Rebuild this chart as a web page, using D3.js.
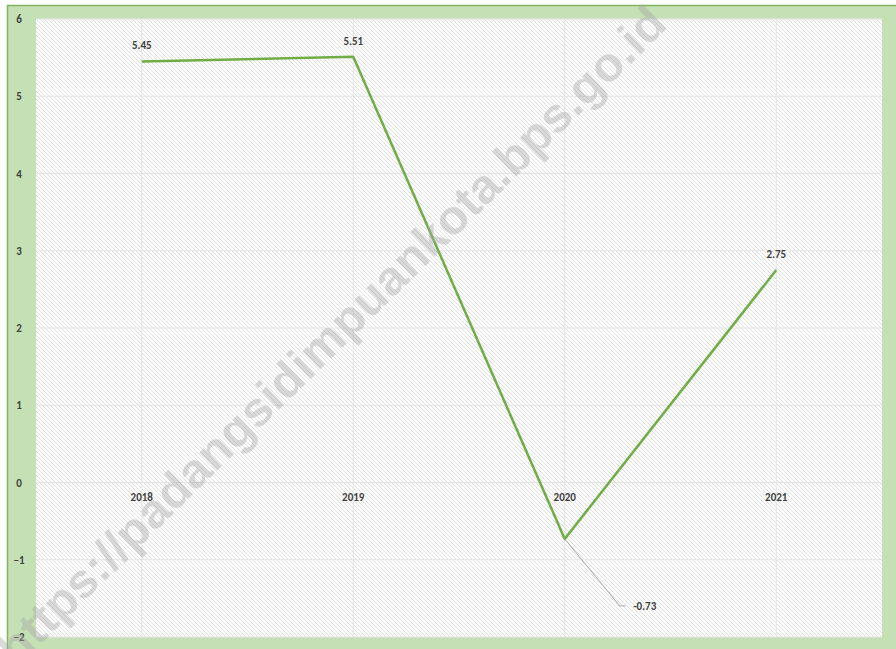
<!DOCTYPE html>
<html>
<head>
<meta charset="utf-8">
<script src="https://cdn.jsdelivr.net/npm/d3@7"></script>
<style>
  body { margin: 0; background: #fff; }
  text { font-family: Calibri, Carlito, "Open Sans", "DejaVu Sans", sans-serif; }
</style>
</head>
<body>
<svg id="chart"></svg>
<script>
var years = ["2018", "2019", "2020", "2021"]
var growth = [5.45, 5.51, -0.73, 2.75]
var yTicks = [-2, -1, 0, 1, 2, 3, 4, 5, 6]

var screen = {width: 896, height: 649}
var margins = {top: 19, bottom: 12, left: 36, right: 14}
var graph = {
  width: screen.width - margins.left - margins.right,
  height: screen.height - margins.top - margins.bottom
}

var svg = d3.select("#chart")
  .attr("width", screen.width)
  .attr("height", screen.height)

// hatch pattern for the plot area
var defs = svg.append("defs")
var pat = defs.append("pattern")
  .attr("id", "hatch")
  .attr("patternUnits", "userSpaceOnUse")
  .attr("width", 4).attr("height", 4)
pat.append("rect").attr("width", 4).attr("height", 4).attr("fill", "#fff")
pat.append("path")
  .attr("d", "M-1,-1 L5,5 M-1,3 L1,5 M3,-1 L5,1")
  .attr("stroke", "#d6d6d6").attr("stroke-width", 0.8)

// chart background + border
svg.append("rect")
  .attr("x", 7.5).attr("y", 5.5)
  .attr("width", screen.width).attr("height", screen.height)
  .attr("fill", "#c5e0b4")
  .attr("stroke", "#82b366").attr("stroke-width", 1.5)

var xScale = d3.scaleBand()
  .domain(years)
  .range([0, graph.width])
var yScale = d3.scaleLinear()
  .domain([-2, 6])
  .range([graph.height, 0])

var g = svg.append("g")
  .classed("graph", true)
  .attr("transform", "translate(" + margins.left + "," + margins.top + ")")

g.append("rect")
  .attr("width", graph.width).attr("height", graph.height)
  .attr("fill", "url(#hatch)")

// gridlines
g.selectAll(".hgrid")
  .data(yTicks)
  .enter()
  .append("line")
  .attr("x1", 0).attr("x2", graph.width)
  .attr("y1", function(d) { return yScale(d) })
  .attr("y2", function(d) { return yScale(d) })
  .attr("stroke", "#e4e4e4").attr("stroke-width", 1)
g.selectAll(".vgrid")
  .data(years)
  .enter()
  .append("line")
  .attr("x1", function(d) { return xScale(d) + xScale.bandwidth() / 2 })
  .attr("x2", function(d) { return xScale(d) + xScale.bandwidth() / 2 })
  .attr("y1", 0).attr("y2", graph.height)
  .attr("stroke", "#e4e4e4").attr("stroke-width", 1)

// y axis labels
var yAxis = d3.axisLeft(yScale).tickValues(yTicks).tickSize(0).tickFormat(d3.format("d"))
var ya = svg.append("g")
  .attr("transform", "translate(" + margins.left + "," + margins.top + ")")
  .call(yAxis)
ya.select(".domain").remove()
ya.selectAll("text")
  .attr("x", -17)
  .attr("text-anchor", "middle")
  .attr("font-size", 11).attr("font-weight", "bold")
  .attr("fill", "#404040")
  .style("font-family", "Calibri, Carlito, 'Open Sans', sans-serif")

// x axis labels (at zero line)
var xAxis = d3.axisBottom(xScale).tickSize(0)
var xa = g.append("g")
  .attr("transform", "translate(0," + yScale(0) + ")")
  .call(xAxis)
xa.select(".domain").remove()
xa.selectAll("text")
  .attr("y", 11)
  .attr("font-size", 11).attr("font-weight", "bold")
  .attr("fill", "#404040")
  .style("font-family", "Calibri, Carlito, 'Open Sans', sans-serif")

// line
var cx = function(d, i) { return xScale(years[i]) + xScale.bandwidth() / 2 }
var line = d3.line()
  .x(function(d, i) { return cx(d, i) })
  .y(function(d) { return yScale(d) })
g.append("path")
  .datum(growth)
  .attr("d", line)
  .attr("fill", "none")
  .attr("stroke", "#70ad47")
  .attr("stroke-width", 2.5)
  .attr("stroke-linejoin", "round")

// leader line for negative label
var negIdx = 2
var px = cx(growth[negIdx], negIdx), py = yScale(growth[negIdx])
g.append("path")
  .attr("d", "M" + px + "," + py + " L" + (px + 55) + "," + (py + 67) + " h6")
  .attr("fill", "none").attr("stroke", "#a6a6a6").attr("stroke-width", 1)

// data labels
g.selectAll(".lbl")
  .data(growth)
  .enter()
  .append("text")
  .attr("x", function(d, i) { return i == negIdx ? cx(d, i) + 80 : cx(d, i) })
  .attr("y", function(d, i) { return i == negIdx ? yScale(d) + 71 : yScale(d) - 12 })
  .attr("text-anchor", "middle")
  .attr("font-size", 11).attr("font-weight", "bold")
  .attr("fill", "#404040")
  .text(function(d) { return d.toFixed(2) })

// watermark
svg.append("text")
  .attr("transform", "translate(334,338) rotate(-44.5)")
  .attr("text-anchor", "middle")
  .attr("dominant-baseline", "middle")
  .attr("font-size", 48)
  .attr("font-weight", "bold")
  .attr("textLength", 915)
  .attr("lengthAdjust", "spacingAndGlyphs")
  .style("font-family", "'Liberation Sans', Arial, sans-serif")
  .attr("fill", "#a8a8a8").attr("fill-opacity", 0.42)
  .text("https://padangsidimpuankota.bps.go.id")
</script>
</body>
</html>
